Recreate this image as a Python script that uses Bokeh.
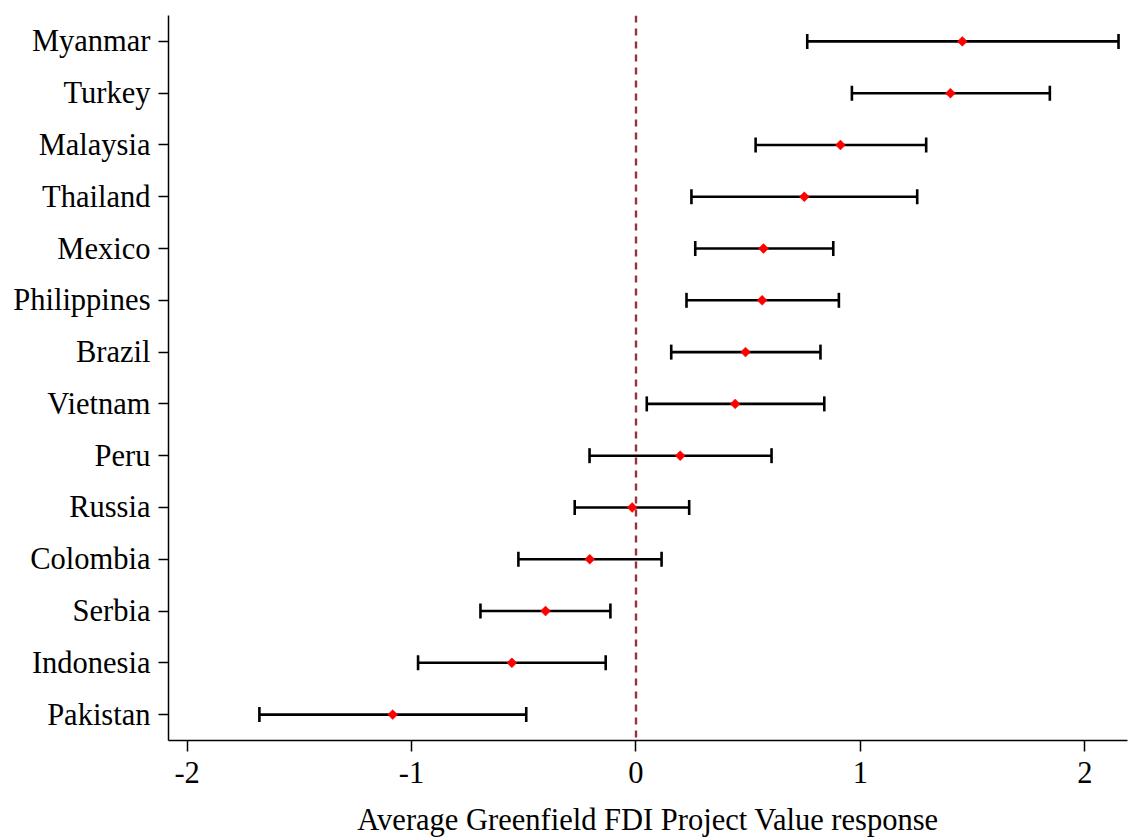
import math
from bokeh.plotting import figure
from bokeh.models import FactorRange, Range1d, Span, ColumnDataSource, FixedTicker
from bokeh.embed import file_html
from bokeh.resources import INLINE

countries = ["Myanmar", "Turkey", "Malaysia", "Thailand", "Mexico", "Philippines",
             "Brazil", "Vietnam", "Peru", "Russia", "Colombia", "Serbia",
             "Indonesia", "Pakistan"]
estimate = [1.454, 1.401, 0.911, 0.750, 0.568, 0.562, 0.488, 0.442, 0.197,
            -0.017, -0.206, -0.403, -0.553, -1.084]
lower = [0.763, 0.962, 0.533, 0.247, 0.264, 0.225, 0.157, 0.048, -0.207,
         -0.273, -0.524, -0.693, -0.971, -1.678]
upper = [2.150, 1.844, 1.293, 1.253, 0.879, 0.904, 0.822, 0.839, 0.604,
         0.237, 0.114, -0.114, -0.135, -0.489]
x_ticks = [-2, -1, 0, 1, 2]
x_tick_labels = ["-2", "-1", "0", "1", "2"]
x_title = "Average Greenfield FDI Project Value response"

FONT = "Liberation Serif"

src = ColumnDataSource(dict(country=countries, est=estimate, lo=lower, hi=upper))

p = figure(width=1129, height=839, output_backend="svg", toolbar_location=None,
           y_range=FactorRange(factors=list(reversed(countries))),
           x_range=Range1d(-2.083, 2.19),
           min_border_left=168, min_border_right=2, min_border_top=15,
           min_border_bottom=98)
p.outline_line_color = None
p.grid.visible = False
p.background_fill_color = "white"
p.border_fill_color = "white"

p.add_layout(Span(location=0, dimension="height", line_color="#93353c",
                  line_width=2.4, line_dash="7 6"))

p.segment(x0="lo", x1="hi", y0="country", y1="country", source=src,
          line_color="black", line_width=2.6)
p.scatter(x="lo", y="country", source=src, marker="dash", angle=math.pi / 2,
          size=15, line_color="black", line_width=2.6)
p.scatter(x="hi", y="country", source=src, marker="dash", angle=math.pi / 2,
          size=15, line_color="black", line_width=2.6)
p.scatter(x="est", y="country", source=src, marker="square", angle=math.pi / 4,
          size=7, fill_color="red", line_color="red", line_width=0.5)

for ax in (p.xaxis[0], p.yaxis[0]):
    ax.axis_line_color = "black"
    ax.axis_line_width = 1.5
    ax.major_tick_line_color = "black"
    ax.major_tick_line_width = 1.5
    ax.minor_tick_line_color = None
    ax.major_tick_in = 0
    ax.major_label_text_font = FONT
    ax.major_label_text_font_size = "30.5px"
    ax.major_label_text_color = "black"

p.xaxis.ticker = FixedTicker(ticks=x_ticks)
p.xaxis.major_label_overrides = {t: s for t, s in zip(x_ticks, x_tick_labels)}
p.xaxis.major_tick_out = 11
p.xaxis.major_label_standoff = 10
p.xaxis.axis_label = x_title
p.xaxis.axis_label_text_font = FONT
p.xaxis.axis_label_text_font_size = "30.5px"
p.xaxis.axis_label_text_font_style = "normal"
p.xaxis.axis_label_text_color = "black"
p.xaxis.axis_label_standoff = 17

p.yaxis.major_tick_out = 10
p.yaxis.major_label_standoff = 8

open("out.html", "w").write(file_html(p, INLINE))
